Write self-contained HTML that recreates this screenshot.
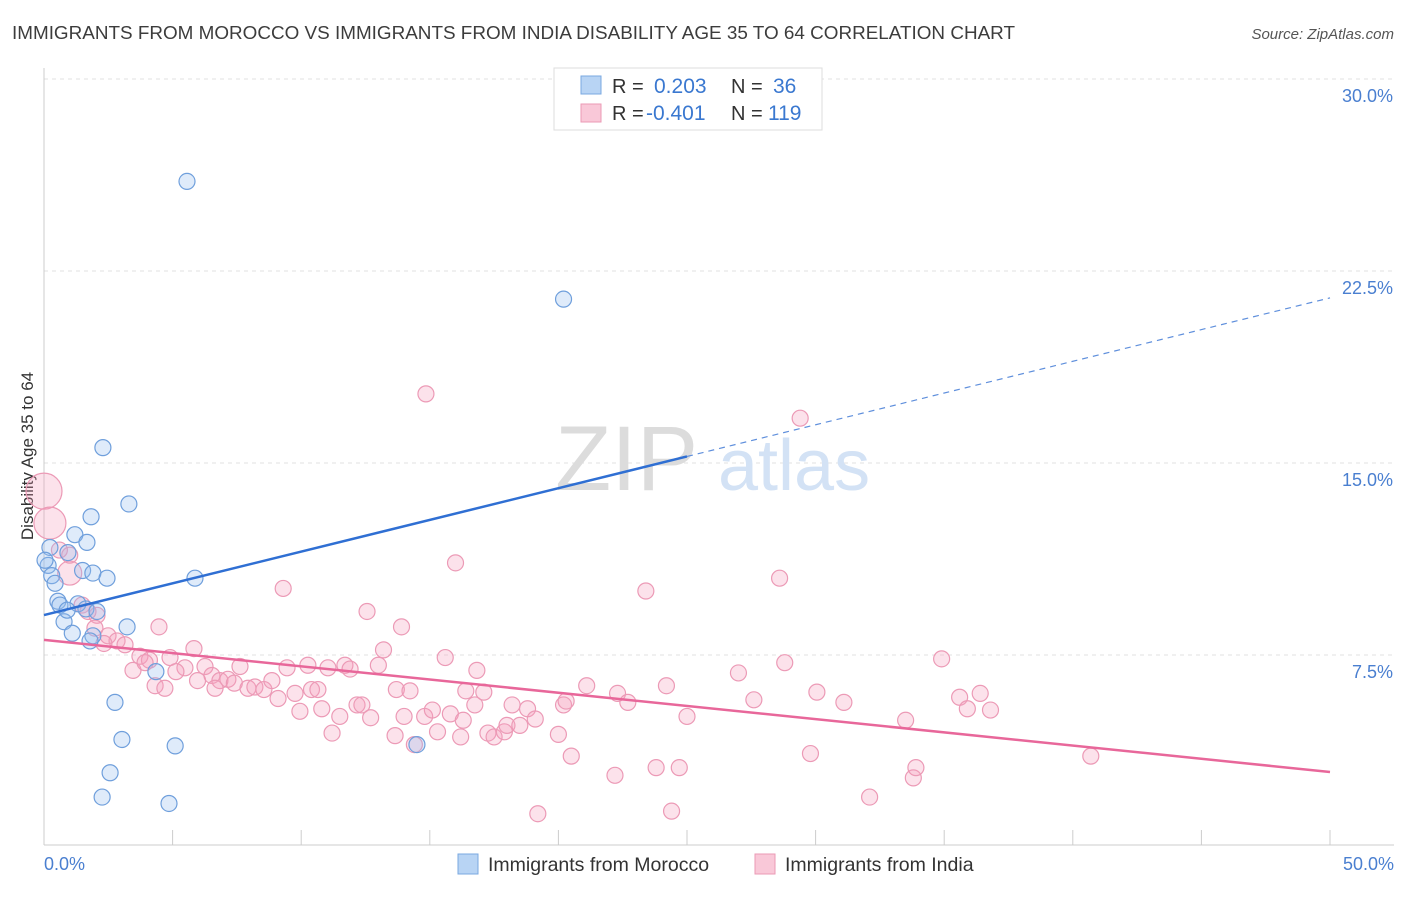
<!DOCTYPE html>
<html><head><meta charset="utf-8">
<style>
body{margin:0;background:#fff;font-family:"Liberation Sans",sans-serif;}
svg text{font-family:"Liberation Sans",sans-serif;}
</style></head>
<body>
<svg id="chart" width="1406" height="892" xmlns="http://www.w3.org/2000/svg">
<text x="12" y="39" font-size="18" fill="#3c3c3c" textLength="1003" lengthAdjust="spacingAndGlyphs">IMMIGRANTS FROM MOROCCO VS IMMIGRANTS FROM INDIA DISABILITY AGE 35 TO 64 CORRELATION CHART</text>
<text x="1394" y="39" font-size="15" fill="#555" text-anchor="end" font-style="italic">Source: ZipAtlas.com</text>
<g id="grid"></g>
<g>
<text x="555" y="490" font-size="92" fill="#dcdcdc" font-family="Liberation Serif">ZIP</text>
<text x="718" y="490" font-size="72" fill="#d3e2f5">atlas</text>
</g>
<line x1="44" y1="68" x2="44" y2="845" stroke="#ccc"/>
<line x1="44" y1="845" x2="1394" y2="845" stroke="#ccc"/>
<g id="xticks"></g>
<g id="ylabels"></g>
<text x="44" y="870" font-size="18" fill="#4a7fd0">0.0%</text>
<text x="1394" y="870" font-size="18" fill="#4a7fd0" text-anchor="end">50.0%</text>
<text transform="translate(33,456) rotate(-90)" font-size="17" fill="#333" text-anchor="middle">Disability Age 35 to 64</text>
<g id="pink"></g>
<g id="blue"></g>
<g id="trends"></g>
<g>
<rect x="554" y="68" width="268" height="62" fill="#fff" stroke="#ddd"/>
<rect x="581" y="76" width="20" height="18" fill="#b8d4f4" stroke="#7aa8e0"/>
<rect x="581" y="104" width="20" height="18" fill="#f9c8d8" stroke="#eb9ab5"/>
<text x="612" y="93" font-size="20" fill="#333">R = </text><text x="654" y="93" font-size="21" fill="#3a78d0">0.203</text>
<text x="731" y="93" font-size="20" fill="#333">N = </text><text x="773" y="93" font-size="21" fill="#3a78d0">36</text>
<text x="612" y="120" font-size="20" fill="#333">R = </text><text x="646" y="120" font-size="21" fill="#3a78d0">-0.401</text>
<text x="731" y="120" font-size="20" fill="#333">N = </text><text x="768" y="120" font-size="21" fill="#3a78d0">119</text>
</g>
<g>
<rect x="458" y="854" width="20" height="20" fill="#b8d4f4" stroke="#7aa8e0"/>
<text x="488" y="871" font-size="19.5" fill="#333">Immigrants from Morocco</text>
<rect x="755" y="854" width="20" height="20" fill="#f9c8d8" stroke="#eb9ab5"/>
<text x="785" y="871" font-size="19.5" fill="#333">Immigrants from India</text>
</g>
</svg>
<script>
const yTicks=[7.5,15,22.5,30];
const yTickLabels=["7.5%","15.0%","22.5%","30.0%"];
const xTicks=[0,5,10,15,20,25,30,35,40,45,50];
const moroccoX=[5.56,20.2,2.29,3.3,1.83,0.23,1.2,1.67,0.93,0.16,0.3,0.43,1.5,1.9,2.45,5.87,0.54,1.32,0.62,1.63,2.06,0.78,1.1,3.23,1.9,1.79,4.35,2.76,3.03,5.1,14.5,2.57,2.26,4.86,0.04,0.9];
const moroccoY=[26.0,21.4,15.6,13.4,12.9,11.7,12.2,11.9,11.5,11.0,10.6,10.3,10.8,10.7,10.5,10.5,9.6,9.5,9.45,9.3,9.2,8.8,8.35,8.6,8.25,8.05,6.85,5.65,4.2,3.95,4.0,2.9,1.95,1.7,11.2,9.25];
const indiaX=[0,0.23,1.0,0.6,1.0,14.85,29.4,16.0,28.6,23.4,9.3,12.56,13.9,4.47,1.48,2.06,1.71,1.98,2.49,2.84,3.15,2.33,3.73,4.1,3.46,3.93,4.9,5.83,5.48,5.13,6.26,6.53,5.97,6.84,7.62,7.15,7.4,7.93,8.2,8.55,6.65,4.32,4.7,8.86,9.1,9.45,9.76,10.26,9.95,10.4,10.65,10.8,11.04,11.7,11.9,13.0,13.2,11.5,11.2,12.17,12.36,12.7,13.7,14.23,14.0,13.65,14.4,14.8,15.1,15.3,15.6,15.8,16.2,16.3,16.4,16.75,16.83,17.1,17.26,17.5,17.9,18.0,18.2,18.8,19.1,18.5,20.0,20.2,20.3,20.5,19.2,21.1,22.2,22.3,22.7,23.8,24.2,24.4,24.7,25.0,27.0,27.6,28.8,29.8,30.05,31.1,32.1,33.5,33.8,33.9,34.9,35.6,35.9,36.4,36.8,40.7];
const indiaY=[13.9,12.65,10.7,11.6,11.4,17.7,16.75,11.1,10.5,10.0,10.1,9.2,8.6,8.6,9.45,9.05,9.2,8.55,8.25,8.05,7.9,7.95,7.45,7.3,6.9,7.2,7.4,7.75,7.0,6.85,7.05,6.7,6.5,6.5,7.05,6.55,6.4,6.2,6.25,6.15,6.2,6.3,6.2,6.5,5.8,7.0,6.0,7.1,5.3,6.15,6.15,5.4,7.0,7.1,6.95,7.1,7.7,5.1,4.45,5.55,5.55,5.05,6.15,6.1,5.1,4.35,4.0,5.1,5.35,4.5,7.4,5.2,4.3,4.95,6.1,5.55,6.9,6.05,4.45,4.3,4.5,4.75,5.55,5.4,5.0,4.75,4.4,5.55,5.7,3.55,1.3,6.3,2.8,6.0,5.65,3.1,6.3,1.4,3.1,5.1,6.8,5.75,7.2,3.65,6.05,5.65,1.95,4.95,2.7,3.1,7.35,5.85,5.4,6.0,5.35,3.55];
const indiaR=[18,16,12];
const moroccoTrend=[9.06,21.45];
const moroccoSolidEnd=25;
const indiaTrend=[8.09,2.93];
const X=v=>44+v*25.72, Y=v=>847-v*25.6;
const NS="http://www.w3.org/2000/svg";
function mk(t,a,p){const e=document.createElementNS(NS,t);for(const k in a)e.setAttribute(k,a[k]);document.getElementById(p).appendChild(e);return e;}
yTicks.forEach((t,i)=>{
 const l=mk('line',{x1:44,x2:1394,y1:Y(t),y2:Y(t),stroke:'#e2e2e2','stroke-dasharray':'4,4'},'grid');
 
 
 const tx=mk('text',{x:1393,y:Y(t)+23,'font-size':18,fill:'#4a7fd0','text-anchor':'end'},'ylabels');
 tx.textContent=yTickLabels[i];
 
 
});
xTicks.forEach(t=>{
 const l=mk('line',{x1:X(t),x2:X(t),y1:830,y2:845,stroke:'#ccc'},'xticks');
 
 
});
indiaX.forEach((v,i)=>{
 const c=mk('circle',{cx:X(v),cy:Y(indiaY[i]),r:indiaR[i]||8,fill:'rgba(244,160,190,0.3)',stroke:'#ec9ab6','stroke-width':1.2},'pink');
 
 
});
moroccoX.forEach((v,i)=>{
 const c=mk('circle',{cx:X(v),cy:Y(moroccoY[i]),r:8,fill:'rgba(150,190,240,0.3)',stroke:'#6f9fdc','stroke-width':1.2},'blue');
 
 
});
const by=x=>moroccoTrend[0]+(moroccoTrend[1]-moroccoTrend[0])*x/50;
let t1=mk('line',{x1:X(0),y1:Y(by(0)),x2:X(moroccoSolidEnd),y2:Y(by(moroccoSolidEnd)),stroke:'#2f6fd3','stroke-width':2.5},'trends');


let t2=mk('line',{x1:X(moroccoSolidEnd),y1:Y(by(moroccoSolidEnd)),x2:X(50),y2:Y(by(50)),stroke:'#5f8fdc','stroke-width':1.2,'stroke-dasharray':'6,5'},'trends');


let t3=mk('line',{x1:X(0),y1:Y(indiaTrend[0]),x2:X(50),y2:Y(indiaTrend[1]),stroke:'#e8679a','stroke-width':2.5},'trends');


</script>
</body></html>
